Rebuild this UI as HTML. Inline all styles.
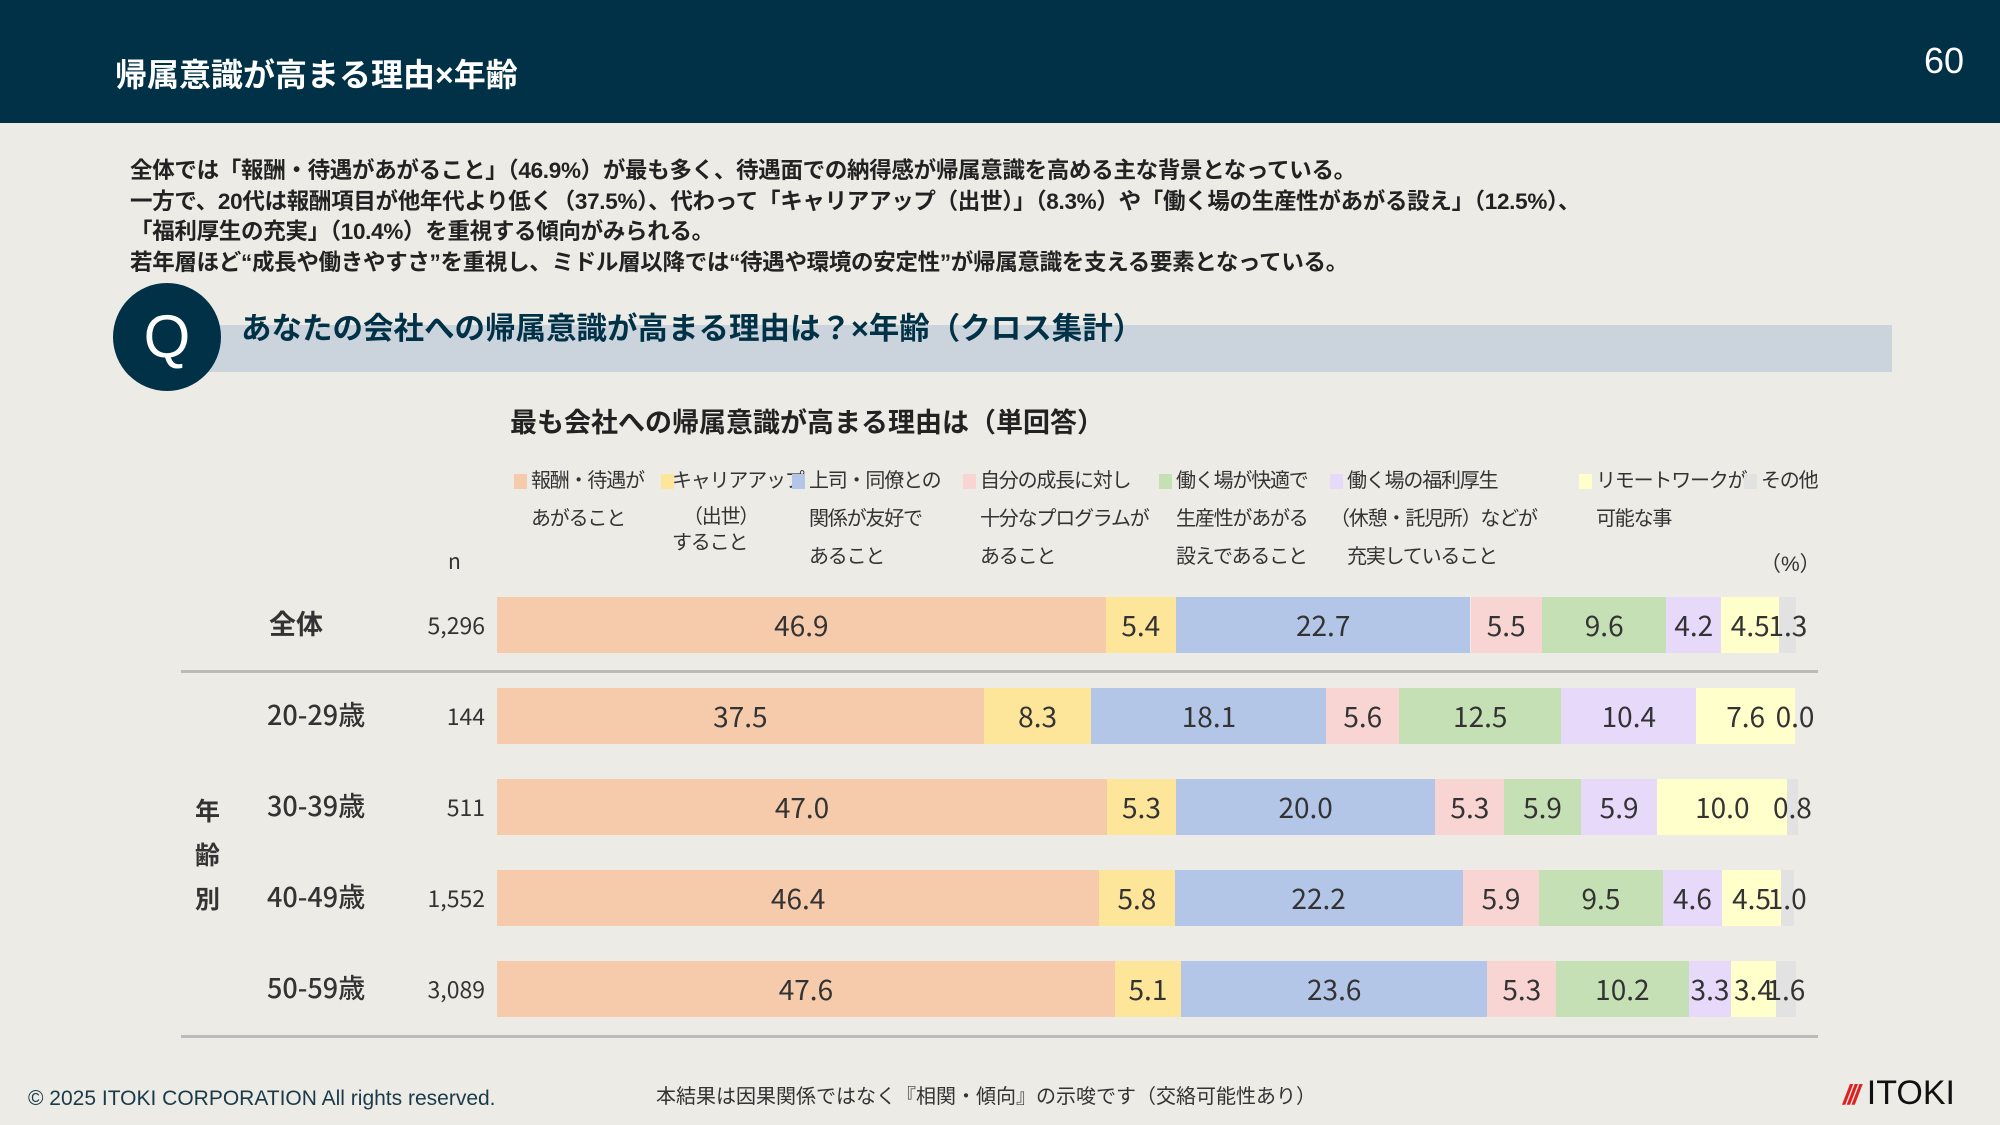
<!DOCTYPE html>
<html><head><meta charset="utf-8"><style>
body{margin:0;width:2000px;height:1125px;background:#ECEBE5;font-family:"Liberation Sans","Noto Sans CJK JP",sans-serif;position:relative;overflow:hidden;color:#333}
.a{position:absolute;white-space:nowrap}
.n{font-family:"Noto Sans CJK JP","Liberation Sans",sans-serif}
</style></head><body>
<div class="a" style="left:0;top:0;width:2000px;height:123px;background:#003146"></div>
<div class="a" style="left:115px;top:50px;font-size:32px;color:#fff;font-weight:bold">帰属意識が高まる理由×年齢</div>
<div class="a" style="left:1924px;top:40px;font-size:36px;color:#fff">60</div>
<div class="a" style="left:130px;top:156px;font-size:22.5px;line-height:30.5px;color:#222;font-weight:bold;letter-spacing:-0.3px">全体では「報酬・待遇があがること」（46.9%）が最も多く、待遇面での納得感が帰属意識を高める主な背景となっている。<br>一方で、20代は報酬項目が他年代より低く（37.5%）、代わって「キャリアアップ（出世）」（8.3%）や「働く場の生産性があがる設え」（12.5%）、<br>「福利厚生の充実」（10.4%）を重視する傾向がみられる。<br>若年層ほど“成長や働きやすさ”を重視し、ミドル層以降では“待遇や環境の安定性”が帰属意識を支える要素となっている。</div>
<div class="a" style="left:191px;top:325px;width:1701px;height:47px;background:#CBD4DC"></div>
<div class="a" style="left:113px;top:283px;width:108px;height:108px;border-radius:50%;background:#003146;color:#fff;font-size:60px;line-height:108px;text-align:center">Q</div>
<div class="a" style="left:241px;top:304px;font-size:30.5px;color:#003146;font-weight:bold">あなたの会社への帰属意識が高まる理由は？×年齢（クロス集計）</div>
<div class="a" style="left:510px;top:401px;font-size:27px;color:#222;font-weight:bold">最も会社への帰属意識が高まる理由は（単回答）</div>
<div id="legend"></div>
<div class="a n" style="left:448px;top:546px;font-size:21px">n</div>
<div class="a" style="left:1760px;top:548px;font-size:21px">（%）</div>
<div class="a" style="left:195px;top:790px;font-size:25px;line-height:44px;font-weight:bold;width:30px">年<br>齢<br>別</div>
<div class="a" style="left:181px;top:670px;width:1637px;height:3px;background:#BBB"></div>
<div class="a" style="left:181px;top:1035px;width:1637px;height:3px;background:#BBB"></div>
<div id="chart"></div>
<div class="a" style="left:28px;top:1087px;font-size:21px;color:#1a3a4a">© 2025 ITOKI CORPORATION All rights reserved.</div>
<div class="a" style="left:656px;top:1080px;font-size:20px;color:#333">本結果は因果関係ではなく『相関・傾向』の示唆です（交絡可能性あり）</div>
<div class="a" style="left:1843px;top:1074px;font-size:34px;color:#111"><span style="color:#d22;font-style:italic;font-weight:bold;font-size:28px;letter-spacing:-3px">///</span> ITOKI</div>
<script>
const categories=["全体","20-29歳","30-39歳","40-49歳","50-59歳"];
const nValues=["5,296","144","511","1,552","3,089"];
const seriesNames=["報酬・待遇が/あがること","キャリアアップ/（出世）/すること","上司・同僚との/関係が友好で/あること","自分の成長に対し/十分なプログラムが/あること","働く場が快適で/生産性があがる/設えであること","働く場の福利厚生/（休憩・託児所）などが/充実していること","リモートワークが/可能な事","その他"];
const salary=[46.9,37.5,47.0,46.4,47.6];
const career=[5.4,8.3,5.3,5.8,5.1];
const relation=[22.7,18.1,20.0,22.2,23.6];
const growth=[5.5,5.6,5.3,5.9,5.3];
const office=[9.6,12.5,5.9,9.5,10.2];
const welfare=[4.2,10.4,5.9,4.6,3.3];
const remote=[4.5,7.6,10.0,4.5,3.4];
const other=[1.3,0.0,0.8,1.0,1.6];
const series=[salary,career,relation,growth,office,welfare,remote,other];
const colors=["#F6CBAC","#FDE59A","#B4C6E7","#F8D5D3","#C5E0B4","#E6D9FA","#FFFFCC","#E2E2E2"];
const X0=497,W=1298,Y0=597,H=56,STEP=91;
const xs=v=>v/100*W;
const chart=document.getElementById('chart');
categories.forEach((c,i)=>{
  const y=Y0+i*STEP;
  const lab=document.createElement('div');lab.className='a n';
  
  
  lab.style.cssText=`left:${i==0?269:267}px;top:${y+6}px;font-size:27px;font-weight:${i==0?'bold':'500'};line-height:40px`;
  lab.textContent=c;chart.appendChild(lab);
  const n=document.createElement('div');n.className='a n';
  
  
  n.style.cssText=`left:385px;width:100px;text-align:right;top:${y+11}px;font-size:23px;line-height:32px`;
  n.textContent=nValues[i];chart.appendChild(n);
  let acc=0;
  series.forEach((s,k)=>{
    const v=s[i];
    const seg=document.createElement('div');seg.className='a';
    
    
    seg.style.cssText=`left:${X0+xs(acc)}px;top:${y}px;width:${xs(v)}px;height:${H}px;background:${colors[k]}`;
    chart.appendChild(seg);
    const t=document.createElement('div');t.className='a n';
    
    
    const cx=X0+xs(acc+v/2);
    t.style.cssText=`left:${cx-40}px;width:80px;text-align:center;top:${y+6}px;font-size:28px;line-height:44px;color:#333`;
    t.textContent=v.toFixed(1);chart.appendChild(t);
    acc+=v;
  });
});
const lg=document.getElementById('legend');
const lx=[514,661,792,963,1159,1330,1579,1744];
seriesNames.forEach((nm,k)=>{
  const sw=document.createElement('div');sw.className='a';
  
  
  sw.style.cssText=`left:${lx[k]}px;top:474px;width:13px;height:15px;background:${colors[k]}`;
  lg.appendChild(sw);
  const lines=nm.split('/');
  lines.forEach((ln,j)=>{
    const t=document.createElement('div');t.className='a';
    
    
    let top=468+j*38,left=lx[k]+17;
    if(k==1){left=j==0?672:(j==1?683:672);top=j==0?468:(j==1?504:530);}
    if(k==5&&j==1)left=1330;
    t.style.cssText=`left:${left}px;top:${top}px;font-size:20px;line-height:26px;color:#333;letter-spacing:-1.2px`;
    t.textContent=ln;lg.appendChild(t);
  });
});
</script>
</body></html>
